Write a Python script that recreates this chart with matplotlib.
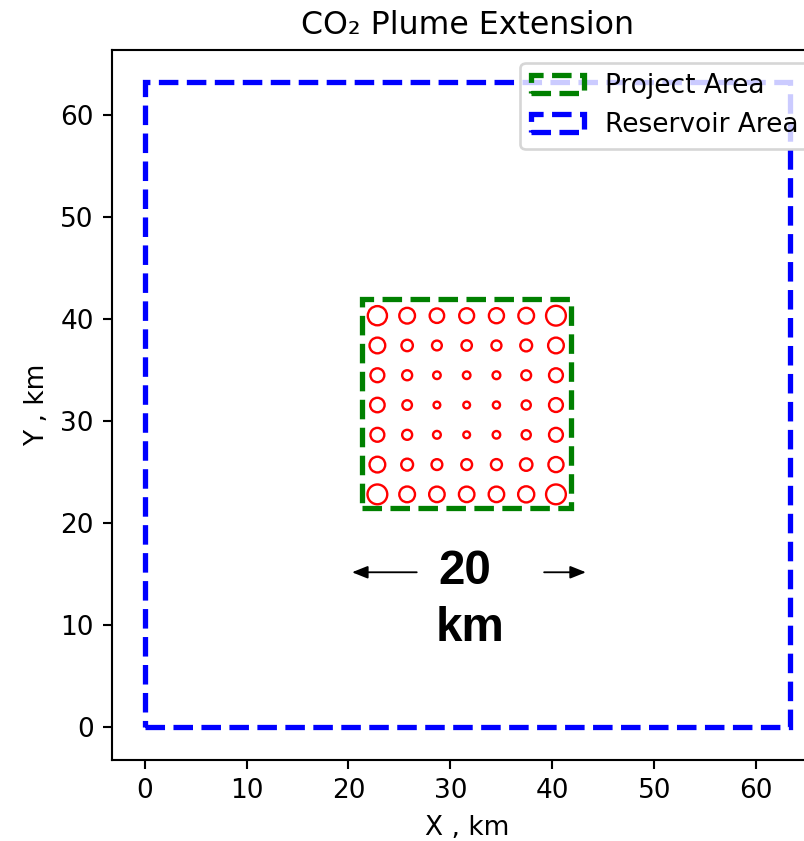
import matplotlib
matplotlib.use("Agg")
import matplotlib.pyplot as plt
from matplotlib.patches import Rectangle, Circle

# Domain geometry (km)
reservoir_origin = (0.0, 0.0)
reservoir_size = 63.3
project_origin = (21.3, 21.5)
project_size = 20.5

# Injection well grid (km)
well_x = [22.84, 25.76, 28.68, 31.60, 34.52, 37.44, 40.36]
well_y = [40.36, 37.44, 34.52, 31.60, 28.68, 25.76, 22.84]  # top row first

# Plume radius at each well (km), rows ordered as well_y
plume_radius = [
    [0.94, 0.77, 0.71, 0.73, 0.74, 0.77, 0.97],
    [0.77, 0.56, 0.48, 0.51, 0.49, 0.58, 0.77],
    [0.68, 0.49, 0.37, 0.37, 0.38, 0.48, 0.68],
    [0.71, 0.47, 0.33, 0.33, 0.35, 0.45, 0.68],
    [0.68, 0.49, 0.38, 0.33, 0.37, 0.45, 0.68],
    [0.77, 0.58, 0.53, 0.53, 0.54, 0.61, 0.74],
    [0.97, 0.77, 0.76, 0.76, 0.76, 0.79, 0.97],
]

scale_value = "20"
scale_unit = "km"

DPI = 190
fig = plt.figure(figsize=(805 / DPI, 841 / DPI), dpi=DPI)
ax = fig.add_axes([0.1396, 0.0969, 0.8815, 0.8442])

ax.add_patch(Rectangle(project_origin, project_size, project_size, fill=False,
                       edgecolor="green", linestyle="--", linewidth=2,
                       label="Project Area"))
ax.add_patch(Rectangle(reservoir_origin, reservoir_size, reservoir_size, fill=False,
                       edgecolor="blue", linestyle="--", linewidth=2,
                       label="Reservoir Area"))

for j, yv in enumerate(well_y):
    for i, xv in enumerate(well_x):
        ax.add_patch(Circle((xv, yv), plume_radius[j][i], fill=False,
                            edgecolor="red", linewidth=0.9))

# Scale annotation
ax.text(31.4, 15.3, scale_value, ha="center", va="center", fontsize=18,
        fontweight="bold", family="Liberation Sans")
ax.text(31.9, 9.7, scale_unit, ha="center", va="center", fontsize=18,
        fontweight="bold", family="Liberation Sans")
arrow = dict(arrowstyle="-|>,head_length=0.5,head_width=0.2", color="black", lw=0.7,
             shrinkA=0, shrinkB=0)
ax.annotate("", xy=(20.35, 15.2), xytext=(26.7, 15.2), arrowprops=arrow)
ax.annotate("", xy=(43.3, 15.2), xytext=(39.2, 15.2), arrowprops=arrow)

ax.set_xlim(-3.16, 66.46)
ax.set_ylim(-3.16, 66.46)
ax.set_xticks([0, 10, 20, 30, 40, 50, 60])
ax.set_yticks([0, 10, 20, 30, 40, 50, 60])
ax.set_xlabel("X , km")
ax.set_ylabel("Y , km")
ax.set_title("CO\u2082 Plume Extension")
ax.legend(loc="upper right")

fig.savefig("out.png", dpi=DPI)
